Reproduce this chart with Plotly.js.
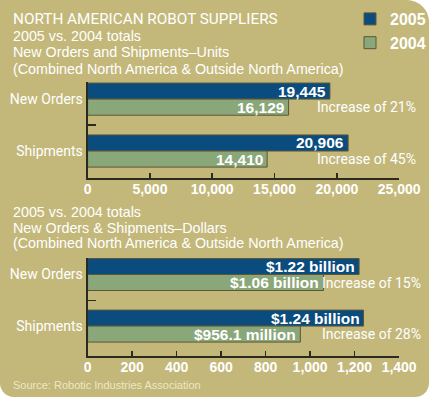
<!DOCTYPE html>
<html>
<head>
<meta charset="utf-8">
<script src="https://cdn.plot.ly/plotly-3.0.1.min.js"></script>
<style>
  body { margin: 0; background: #ffffff; }
  #panel {
    position: absolute; left: 0; top: 0;
    width: 429px; height: 397px;
    background: #c3b87a;
    border-radius: 0 22px 14px 14px;
  }
  #chart { position: absolute; left: 0; top: 0; width: 431px; height: 400px; }
</style>
</head>
<body>
<div id="panel"></div>
<div id="chart"></div>
<script>
// values read from the graphic
const categories = ['New Orders', 'Shipments']
const units2005 = [19445, 20906]
const units2004 = [16129, 14410]
const unitIncrease = ['Increase of 21%', 'Increase of 45%']

// dollars, in millions
const dollars2005 = [1220, 1240]
const dollars2004 = [1060, 956.1]
const dollarLabels2005 = ['$1.22 billion', '$1.24 billion']
const dollarLabels2004 = ['$1.06 billion', '$956.1 million']
const dollarIncrease = ['Increase of 15%', 'Increase of 28%']

const unitLines = ['2005 vs. 2004 totals', 'New Orders and Shipments\u2013Units', '(Combined North America & Outside North America)']
const dollarLines = ['2005 vs. 2004 totals', 'New Orders & Shipments\u2013Dollars', '(Combined North America & Outside North America)']

const BLUE = '#0b4c7e'
const GREEN = '#8aa779'
const EDGE = '#5c5636'
const AXIS = '#2b2a20'
const NARROW = 'Roboto, "DejaVu Sans Condensed", sans-serif'
const SANS = '"Liberation Sans", Arial, sans-serif'
const BARGAP = 0.38

const barStyle = (color) => ({
  color: color,
  line: { color: EDGE, width: 1 }
})

const data = [
  {
    type: 'bar', orientation: 'h', name: '2005', legendgroup: 'a',
    y: categories, x: units2005, marker: barStyle(BLUE), xaxis: 'x', yaxis: 'y', hoverinfo: 'skip'
  },
  {
    type: 'bar', orientation: 'h', name: '2004', legendgroup: 'b',
    y: categories, x: units2004, marker: barStyle(GREEN), xaxis: 'x', yaxis: 'y', hoverinfo: 'skip'
  },
  {
    type: 'bar', orientation: 'h', name: '2005', showlegend: false,
    y: categories, x: dollars2005, marker: barStyle(BLUE), xaxis: 'x2', yaxis: 'y2', hoverinfo: 'skip'
  },
  {
    type: 'bar', orientation: 'h', name: '2004', showlegend: false,
    y: categories, x: dollars2004, marker: barStyle(GREEN), xaxis: 'x2', yaxis: 'y2', hoverinfo: 'skip'
  }
]

const xBase = {
  domain: [0.2042, 0.9304],
  showgrid: false, zeroline: false,
  showline: true, linecolor: AXIS, linewidth: 2,
  ticks: 'inside', ticklen: 5, tickwidth: 1.5, tickcolor: AXIS,
  tickformat: ',d', ticklabelstandoff: -3,
  tickfont: { family: SANS, size: 14, color: '#ffffff', weight: 'bold' },
  fixedrange: true
}
const yBase = {
  type: 'category',
  showgrid: false, zeroline: false,
  showline: true, linecolor: AXIS, linewidth: 2,
  ticks: 'inside', tickson: 'boundaries', ticklen: 8, tickwidth: 1.5, tickcolor: AXIS,
  tickfont: { family: NARROW, size: 14, color: '#ffffff' },
  fixedrange: true
}

// offset of each bar from its category centre (2005 above, 2004 below)
const upperBar = -(1 - BARGAP) / 4
const lowerBar = (1 - BARGAP) / 4

const textNote = (txt, y, size, font, color) => ({
  text: txt, xref: 'paper', yref: 'paper', x: 11 / 431, y: y,
  xanchor: 'left', yanchor: 'middle', showarrow: false,
  font: { family: font, size: size, color: color }
})

const annotations = [
  textNote('NORTH AMERICAN ROBOT SUPPLIERS', 0.952, 15.3, NARROW, '#ffffff'),
  textNote('Source: Robotic Industries Association', 0.037, 11, SANS, '#ede7c6')
]
const unitY = [0.91, 0.869, 0.8275]
const dollarY = [0.47, 0.431, 0.3925]
unitLines.forEach((t, i) => annotations.push(textNote(t, unitY[i], 14.3, SANS, '#ffffff')))
dollarLines.forEach((t, i) => annotations.push(textNote(t, dollarY[i], 14.3, SANS, '#ffffff')))

const barLabel = (txt, x, y, ax, ay) => ({
  text: txt, xref: ax, yref: ay, x: x, y: y, xshift: -2,
  xanchor: 'right', yanchor: 'middle', showarrow: false,
  font: { family: SANS, size: 15.5, color: '#ffffff', weight: 'bold' }
})
const fmt = (v) => v.toLocaleString('en-US')
categories.forEach((c, i) => {
  annotations.push(barLabel(fmt(units2005[i]), units2005[i], i + upperBar, 'x', 'y'))
  annotations.push(barLabel(fmt(units2004[i]), units2004[i], i + lowerBar, 'x', 'y'))
  annotations.push(barLabel(dollarLabels2005[i], dollars2005[i], i + upperBar, 'x2', 'y2'))
  annotations.push(barLabel(dollarLabels2004[i], dollars2004[i], i + lowerBar, 'x2', 'y2'))
})

const increaseNote = (txt, y, ay, x) => ({
  text: txt, xref: 'paper', yref: ay, x: x, y: y,
  xanchor: 'right', yanchor: 'middle', showarrow: false,
  font: { family: NARROW, size: 14, color: '#ffffff' }
})
unitIncrease.forEach((t, i) => annotations.push(increaseNote(t, i + lowerBar, 'y', 0.975)))
dollarIncrease.forEach((t, i) => annotations.push(increaseNote(t, i + lowerBar, 'y2', 0.985)))

const layout = {
  width: 431, height: 400,
  margin: { t: 0, r: 0, b: 0, l: 0 },
  paper_bgcolor: 'rgba(0,0,0,0)',
  plot_bgcolor: 'rgba(0,0,0,0)',
  barmode: 'group', bargap: BARGAP, bargroupgap: 0,
  showlegend: true,
  legend: {
    x: 352 / 431, y: 0.995, xanchor: 'left', yanchor: 'top',
    bgcolor: 'rgba(0,0,0,0)', tracegroupgap: 0, itemwidth: 30,
    font: { family: SANS, size: 16, color: '#ffffff', weight: 'bold' }
  },
  xaxis: Object.assign({}, xBase, { anchor: 'y', range: [0, 25000], dtick: 5000 }),
  yaxis: Object.assign({}, yBase, { anchor: 'x', domain: [0.555, 0.795], range: [1.52, -0.33] }),
  xaxis2: Object.assign({}, xBase, { anchor: 'y2', range: [0, 1400], dtick: 200 }),
  yaxis2: Object.assign({}, yBase, { anchor: 'x2', domain: [0.11, 0.355], range: [1.58, -0.32] }),
  annotations: annotations
}

Plotly.newPlot('chart', data, layout, { displayModeBar: false, staticPlot: true })
</script>
</body>
</html>
